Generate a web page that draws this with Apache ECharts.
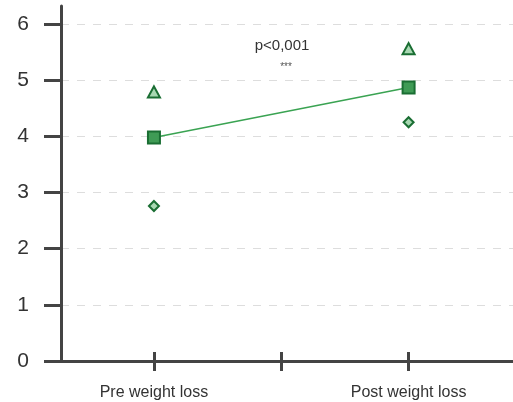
<!DOCTYPE html>
<html>
<head>
<meta charset="utf-8">
<script src="https://cdn.jsdelivr.net/npm/echarts@6/dist/echarts.min.js"></script>
<style>html,body{margin:0;padding:0;background:#fff}#c{width:513px;height:402px}</style>
</head>
<body>
<div id="c"></div>
<script>
const categories = ["Pre weight loss", "Post weight loss"];
const categoryPos = [1, 2];
const meanValues = [3.98, 4.87];
const upperValues = [4.79, 5.56];
const lowerValues = [2.76, 4.25];
const yTicks = [0, 1, 2, 3, 4, 5, 6];
const annotation = "p<0,001";
const stars = "***";

const dark = '#1a6e33';
const mid = '#3f9b55';
const light = '#a8d8b2';
const axisColor = '#444';
const fontFam = '"Liberation Sans", Arial, sans-serif';

const pts = arr => arr.map((v, i) => [categoryPos[i], v]);
const labelFor = v => { const i = categoryPos.indexOf(v); return i >= 0 ? categories[i] : ''; };

const xBase = {
  type: 'value', min: 0.635, max: 2.41,
  axisLine: { show: true, lineStyle: { color: axisColor, width: 3 } },
  splitLine: { show: false }
};

const chart = echarts.init(document.getElementById('c'));
chart.setOption({
  animation: false,
  grid: { left: 61, right: 0, top: 6, bottom: 41 },
  xAxis: [
    Object.assign({}, xBase, {
      axisTick: { show: true, inside: false, length: 10, lineStyle: { color: axisColor, width: 3 }, customValues: [1, 1.5, 2] },
      axisLabel: { show: true, customValues: categoryPos, formatter: labelFor, color: '#333', fontSize: 16, fontFamily: fontFam, margin: 24 }
    }),
    Object.assign({}, xBase, {
      position: 'bottom',
      axisTick: { show: true, inside: true, length: 9, lineStyle: { color: axisColor, width: 3 }, customValues: [1, 1.5, 2] },
      axisLabel: { show: false }
    })
  ],
  yAxis: {
    type: 'value', min: 0, max: 6.32,
    axisLine: { show: true, lineStyle: { color: axisColor, width: 3 } },
    axisTick: { show: true, length: 17, lineStyle: { color: axisColor, width: 3 }, customValues: yTicks },
    axisLabel: { customValues: yTicks, color: '#333', fontSize: 21, fontFamily: fontFam, margin: 32 },
    splitLine: { show: true, lineStyle: { color: '#ddd', type: [8, 8], width: 1 } }
  },
  graphic: [
    { type: 'text', x: 282, y: 38, style: { text: annotation, fill: '#333', font: '15px ' + fontFam, textAlign: 'center', verticalAlign: 'top' } },
    { type: 'text', x: 286, y: 62, style: { text: stars, fill: '#555', font: '10px ' + fontFam, textAlign: 'center', verticalAlign: 'top' } }
  ],
  series: [
    {
      type: 'line', data: pts(meanValues), symbol: 'rect', symbolSize: 12,
      lineStyle: { color: '#3aa352', width: 1.5 },
      itemStyle: { color: mid, borderColor: dark, borderWidth: 2, opacity: 1 }, z: 3
    },
    {
      type: 'scatter', data: pts(upperValues), symbol: 'triangle', symbolSize: [12, 11],
      itemStyle: { color: light, borderColor: dark, borderWidth: 2, opacity: 1 }
    },
    {
      type: 'scatter', data: pts(lowerValues), symbol: 'diamond', symbolSize: [10, 10],
      itemStyle: { color: light, borderColor: dark, borderWidth: 2, opacity: 1 }
    }
  ]
});
</script>
</body>
</html>
